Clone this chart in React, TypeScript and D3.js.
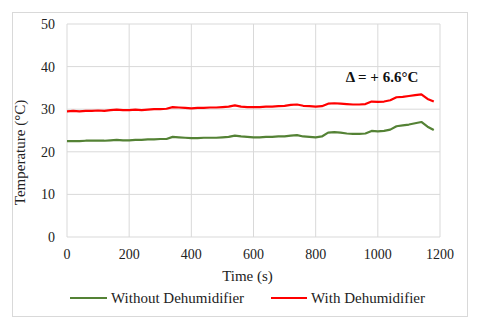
import React from 'react'
import { scaleLinear, line } from 'd3'

const times = [
  0, 20, 40, 60, 80, 100, 120, 140, 160, 180, 200, 220, 240, 260, 280, 300, 320, 340, 360, 380,
  400, 420, 440, 460, 480, 500, 520, 540, 560, 580, 600, 620, 640, 660, 680, 700, 720, 740, 760, 780,
  800, 820, 840, 860, 880, 900, 920, 940, 960, 980, 1000, 1020, 1040, 1060, 1080, 1100, 1120, 1140, 1160, 1180,
]

const withDehumidifier = [
  29.5, 29.6, 29.5, 29.6, 29.6, 29.7, 29.6, 29.8, 29.9, 29.8, 29.8, 29.9, 29.8, 29.9, 30.0, 30.0, 30.1, 30.5, 30.4, 30.3,
  30.2, 30.3, 30.3, 30.4, 30.4, 30.5, 30.6, 30.9, 30.6, 30.5, 30.5, 30.5, 30.6, 30.6, 30.7, 30.8, 31.0, 31.1, 30.8, 30.7,
  30.6, 30.7, 31.3, 31.4, 31.3, 31.2, 31.1, 31.1, 31.2, 31.8, 31.7, 31.8, 32.1, 32.8, 32.9, 33.1, 33.3, 33.5, 32.4, 31.8,
]

const withoutDehumidifier = [
  22.5, 22.5, 22.5, 22.6, 22.6, 22.6, 22.6, 22.7, 22.8, 22.7, 22.7, 22.8, 22.8, 22.9, 22.9, 23.0, 23.0, 23.5, 23.4, 23.3,
  23.2, 23.2, 23.3, 23.3, 23.3, 23.4, 23.5, 23.8, 23.6, 23.5, 23.4, 23.4, 23.5, 23.5, 23.6, 23.6, 23.8, 23.9, 23.6, 23.5,
  23.4, 23.6, 24.5, 24.6, 24.5, 24.3, 24.2, 24.2, 24.3, 24.9, 24.8, 24.9, 25.2, 26.0, 26.2, 26.4, 26.7, 27.0, 25.9, 25.1,
]

const xTicks = [0, 200, 400, 600, 800, 1000, 1200]
const yTicks = [0, 10, 20, 30, 40, 50]

const App = () => {
  const width = 480
  const height = 329
  const margin = { top: 24, right: 40, bottom: 92, left: 67 }
  const innerWidth = width - margin.left - margin.right
  const innerHeight = height - margin.top - margin.bottom

  const xScale = scaleLinear().domain([0, 1200]).range([0, innerWidth])
  const yScale = scaleLinear().domain([0, 50]).range([innerHeight, 0])

  const lineGen = line<number>()
    .x((d, i) => xScale(times[i]))
    .y(d => yScale(d))

  const txt = { fontFamily: 'Liberation Serif', fontSize: 14, fill: '#222' }
  const big = { ...txt, fontSize: 15 }
  const green = '#548235'
  const red = '#ff0000'
  const grid = '#d9d9d9'

  return (
    <svg width={width} height={height} style={{ position: 'absolute', left: 0, top: 0, background: 'white' }}>
      <rect x={12.5} y={12.5} width={455} height={304} fill='white' stroke={grid} />
      <g transform={`translate(${margin.left},${margin.top})`}>
        {xTicks.map(t => (
          <line key={'gx' + t} x1={xScale(t)} x2={xScale(t)} y1={0} y2={innerHeight} stroke={grid} />
        ))}
        {yTicks.map(t => (
          <line key={'gy' + t} x1={0} x2={innerWidth} y1={yScale(t)} y2={yScale(t)} stroke={grid} />
        ))}
        {yTicks.map(t => (
          <text key={'ty' + t} x={-12} y={yScale(t)} dy='0.35em' textAnchor='end' style={txt}>{t}</text>
        ))}
        {xTicks.map(t => (
          <text key={'tx' + t} x={xScale(t)} y={innerHeight + 22} textAnchor='middle' style={txt}>{t}</text>
        ))}
        <path d={lineGen(withoutDehumidifier) || ''} fill='none' stroke={green} strokeWidth={2.2} strokeLinejoin='round' />
        <path d={lineGen(withDehumidifier) || ''} fill='none' stroke={red} strokeWidth={2.2} strokeLinejoin='round' />
        <text x={xScale(1130)} y={yScale(36.3)} textAnchor='end' style={{ ...big, fontWeight: 'bold', fill: '#111' }}>Δ = + 6.6°C</text>
        <text x={innerWidth / 2 - 6} y={innerHeight + 44} textAnchor='middle' style={big}>Time (s)</text>
        <text transform={`translate(${-42},${innerHeight / 2 + 22}) rotate(-90)`} textAnchor='middle' style={big}>Temperature (°C)</text>
      </g>
      <line x1={70} x2={107} y1={298} y2={298} stroke={green} strokeWidth={2} />
      <text x={111} y={298} dy='0.35em' style={big}>Without Dehumidifier</text>
      <line x1={271} x2={307} y1={298} y2={298} stroke={red} strokeWidth={2} />
      <text x={311} y={298} dy='0.35em' style={big}>With Dehumidifier</text>
    </svg>
  )
}

export default App
